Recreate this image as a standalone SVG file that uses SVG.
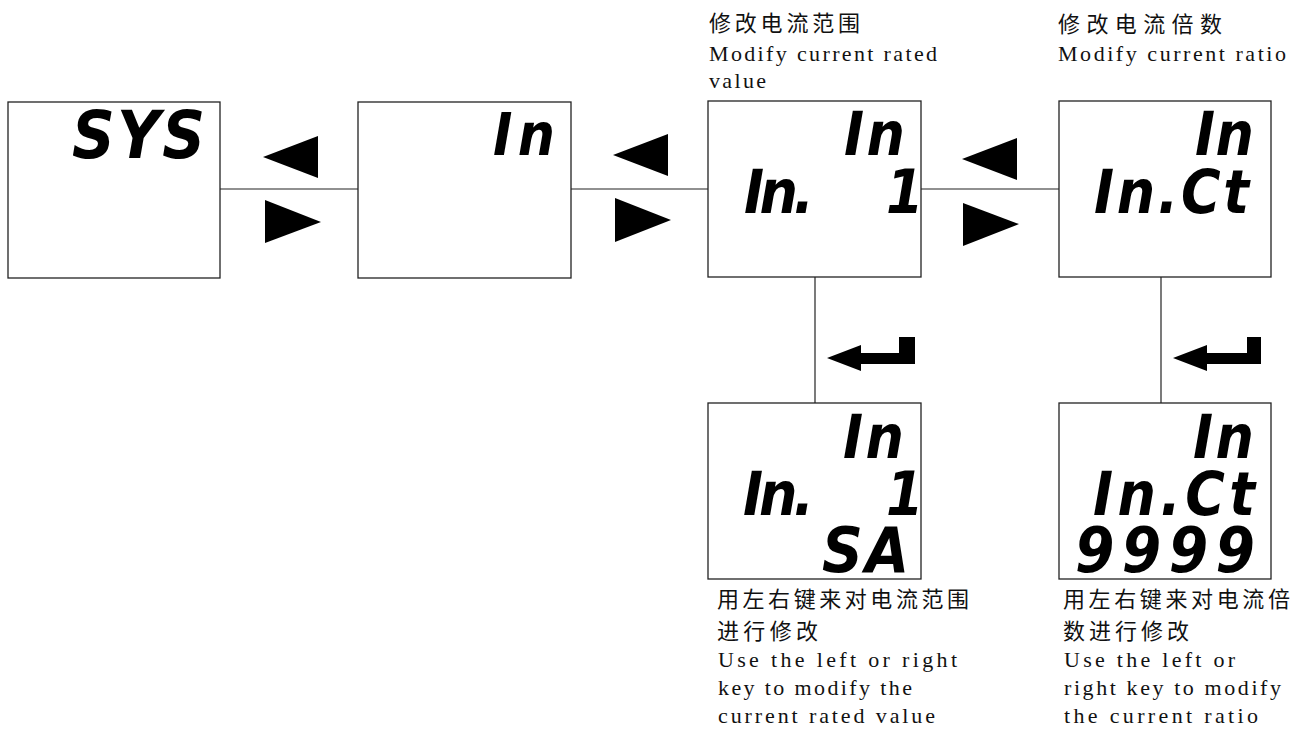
<svg xmlns="http://www.w3.org/2000/svg" width="1304" height="731" viewBox="0 0 1304 731">
  <style>
    .panel { fill: #fff; stroke: #222; stroke-width: 1.3; }
    .wire { stroke: #222; stroke-width: 1.2; fill: none; }
    .key { fill: #000; }
    .seg { font-family: "Liberation Sans Narrow", "DejaVu Sans Condensed", "Liberation Sans", sans-serif; font-stretch: condensed; font-weight: bold; font-style: italic; fill: #000; }
    .cn { font-family: "Noto Sans CJK SC", sans-serif; font-size: 22px; fill: #111; }
    .en { font-family: "Liberation Serif", "Times New Roman", serif; font-size: 22px; fill: #111; }
  </style>

  <rect width="1304" height="731" fill="#fff"/>

  <!-- connectors -->
  <g id="connectors">
    <line class="wire" x1="220" y1="189" x2="358" y2="189"/>
    <line class="wire" x1="571" y1="189" x2="708" y2="189"/>
    <line class="wire" x1="921" y1="189" x2="1059" y2="189"/>
    <line class="wire" x1="815" y1="277" x2="815" y2="403"/>
    <line class="wire" x1="1161" y1="277" x2="1161" y2="403"/>

    <!-- left / right key symbols -->
    <polygon class="key" points="263,157 318,136 318,178"/>
    <polygon class="key" points="265,200 321,222 265,243"/>
    <polygon class="key" points="613,155 668,134 668,176"/>
    <polygon class="key" points="615,198 671,220 615,242"/>
    <polygon class="key" points="962,159 1017,138 1017,180"/>
    <polygon class="key" points="963,203 1019,224 963,246"/>

    <!-- enter key symbols -->
    <polygon class="key" points="827,358 861,345 861,353 899,353 899,337 915,337 915,364 861,364 861,371"/>
    <polygon class="key" points="1173,358 1207,345 1207,353 1247,353 1247,337 1261,337 1261,364 1207,364 1207,371"/>
  </g>

  <!-- SYS menu -->
  <g id="node-sys">
    <rect class="panel" x="8" y="102" width="212" height="176"/>
    <text class="seg" x="72" y="158" font-size="66" textLength="133" lengthAdjust="spacing">SYS</text>
  </g>

  <!-- In menu -->
  <g id="node-in">
    <rect class="panel" x="358" y="102" width="213" height="176"/>
    <text class="seg" x="493" y="155" font-size="58" textLength="62" lengthAdjust="spacing">In</text>
  </g>

  <!-- current range -->
  <g id="node-range">
    <text class="cn" x="709" y="31" textLength="151" lengthAdjust="spacing">修改电流范围</text>
    <text class="en" x="709" y="61" textLength="228" lengthAdjust="spacing">Modify current rated</text>
    <text class="en" x="709" y="88" textLength="57" lengthAdjust="spacing">value</text>
    <rect class="panel" x="708" y="101" width="213" height="176"/>
    <text class="seg" font-size="60"><tspan x="844" y="155" textLength="61" lengthAdjust="spacing">In</tspan><tspan x="744" y="213" textLength="70" lengthAdjust="spacing">In.</tspan><tspan x="886" y="213">1</tspan></text>
  </g>

  <!-- current ratio -->
  <g id="node-ratio">
    <text class="cn" x="1058" y="32" textLength="164" lengthAdjust="spacing">修改电流倍数</text>
    <text class="en" x="1058" y="61" textLength="228" lengthAdjust="spacing">Modify current ratio</text>
    <rect class="panel" x="1059" y="101" width="212" height="176"/>
    <text class="seg" font-size="60"><tspan x="1195" y="155" textLength="59" lengthAdjust="spacing">In</tspan><tspan x="1094" y="213" textLength="155" lengthAdjust="spacing">In.Ct</tspan></text>
  </g>

  <!-- range edit -->
  <g id="node-range-edit">
    <rect class="panel" x="708" y="403" width="213" height="176"/>
    <text class="seg" font-size="60"><tspan x="843" y="458" textLength="61" lengthAdjust="spacing">In</tspan><tspan x="743" y="515" textLength="71" lengthAdjust="spacing">In.</tspan><tspan x="886" y="515">1</tspan><tspan x="822" y="572" font-size="63" textLength="87" lengthAdjust="spacing">SA</tspan></text>
    <text class="cn" x="717" y="607" textLength="252" lengthAdjust="spacing">用左右键来对电流范围</text>
    <text class="cn" x="717" y="639" textLength="101" lengthAdjust="spacing">进行修改</text>
    <text class="en" x="718" y="667" textLength="239" lengthAdjust="spacing">Use the left or right</text>
    <text class="en" x="718" y="695" textLength="194" lengthAdjust="spacing">key to modify the</text>
    <text class="en" x="718" y="723" textLength="217" lengthAdjust="spacing">current rated value</text>
  </g>

  <!-- ratio edit -->
  <g id="node-ratio-edit">
    <rect class="panel" x="1059" y="403" width="212" height="176"/>
    <text class="seg" font-size="60"><tspan x="1193" y="458" textLength="61" lengthAdjust="spacing">In</tspan><tspan x="1093" y="515" textLength="162" lengthAdjust="spacing">In.Ct</tspan><tspan x="1075" y="572" font-size="63" textLength="180" lengthAdjust="spacing">9999</tspan></text>
    <text class="cn" x="1063" y="607" textLength="227" lengthAdjust="spacing">用左右键来对电流倍</text>
    <text class="cn" x="1063" y="639" textLength="126" lengthAdjust="spacing">数进行修改</text>
    <text class="en" x="1064" y="667" textLength="171" lengthAdjust="spacing">Use the left or</text>
    <text class="en" x="1064" y="695" textLength="217" lengthAdjust="spacing">right key to modify</text>
    <text class="en" x="1064" y="723" textLength="194" lengthAdjust="spacing">the current ratio</text>
  </g>
</svg>
